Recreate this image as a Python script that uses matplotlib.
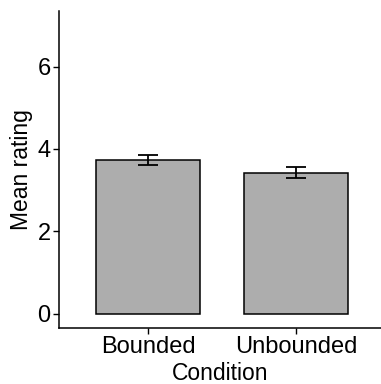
import numpy as np
import matplotlib.pyplot as plt

plt.rcParams['font.family'] = ['Liberation Sans', 'DejaVu Sans']

conditions = ['Bounded', 'Unbounded']
means = [3.73, 3.42]
err_low = [3.60, 3.29]
err_high = [3.85, 3.56]

fig = plt.figure(figsize=(3.81, 3.84), dpi=100)
ax = fig.add_axes([59/381, (384-328)/384, (381-59)/381, (328-11)/384])

x = np.arange(1, len(conditions) + 1)
ax.bar(x, means, width=0.7, color='#adadad', edgecolor='black', linewidth=1.1, zorder=2)
yerr = [np.array(means) - np.array(err_low), np.array(err_high) - np.array(means)]
ax.errorbar(x, means, yerr=yerr, fmt='none', ecolor='black', elinewidth=1.3,
            capsize=7, capthick=1.3, zorder=3)

ax.set_xlim(0.4, 2.57)
ax.set_ylim(-0.35, 7.35)
ax.set_yticks([0, 2, 4, 6])
ax.set_xticks(x)
ax.set_xticklabels(conditions)
ax.tick_params(labelsize=17, length=4, width=1.0, colors='black', pad=2)

for side in ['top', 'right']:
    ax.spines[side].set_visible(False)
for side in ['left', 'bottom']:
    ax.spines[side].set_linewidth(1.1)

ax.set_xlabel('Condition', fontsize=16.5, labelpad=2.5)
ax.set_ylabel('Mean rating', fontsize=16.5, labelpad=3)

fig.savefig('out.png', dpi=100)
